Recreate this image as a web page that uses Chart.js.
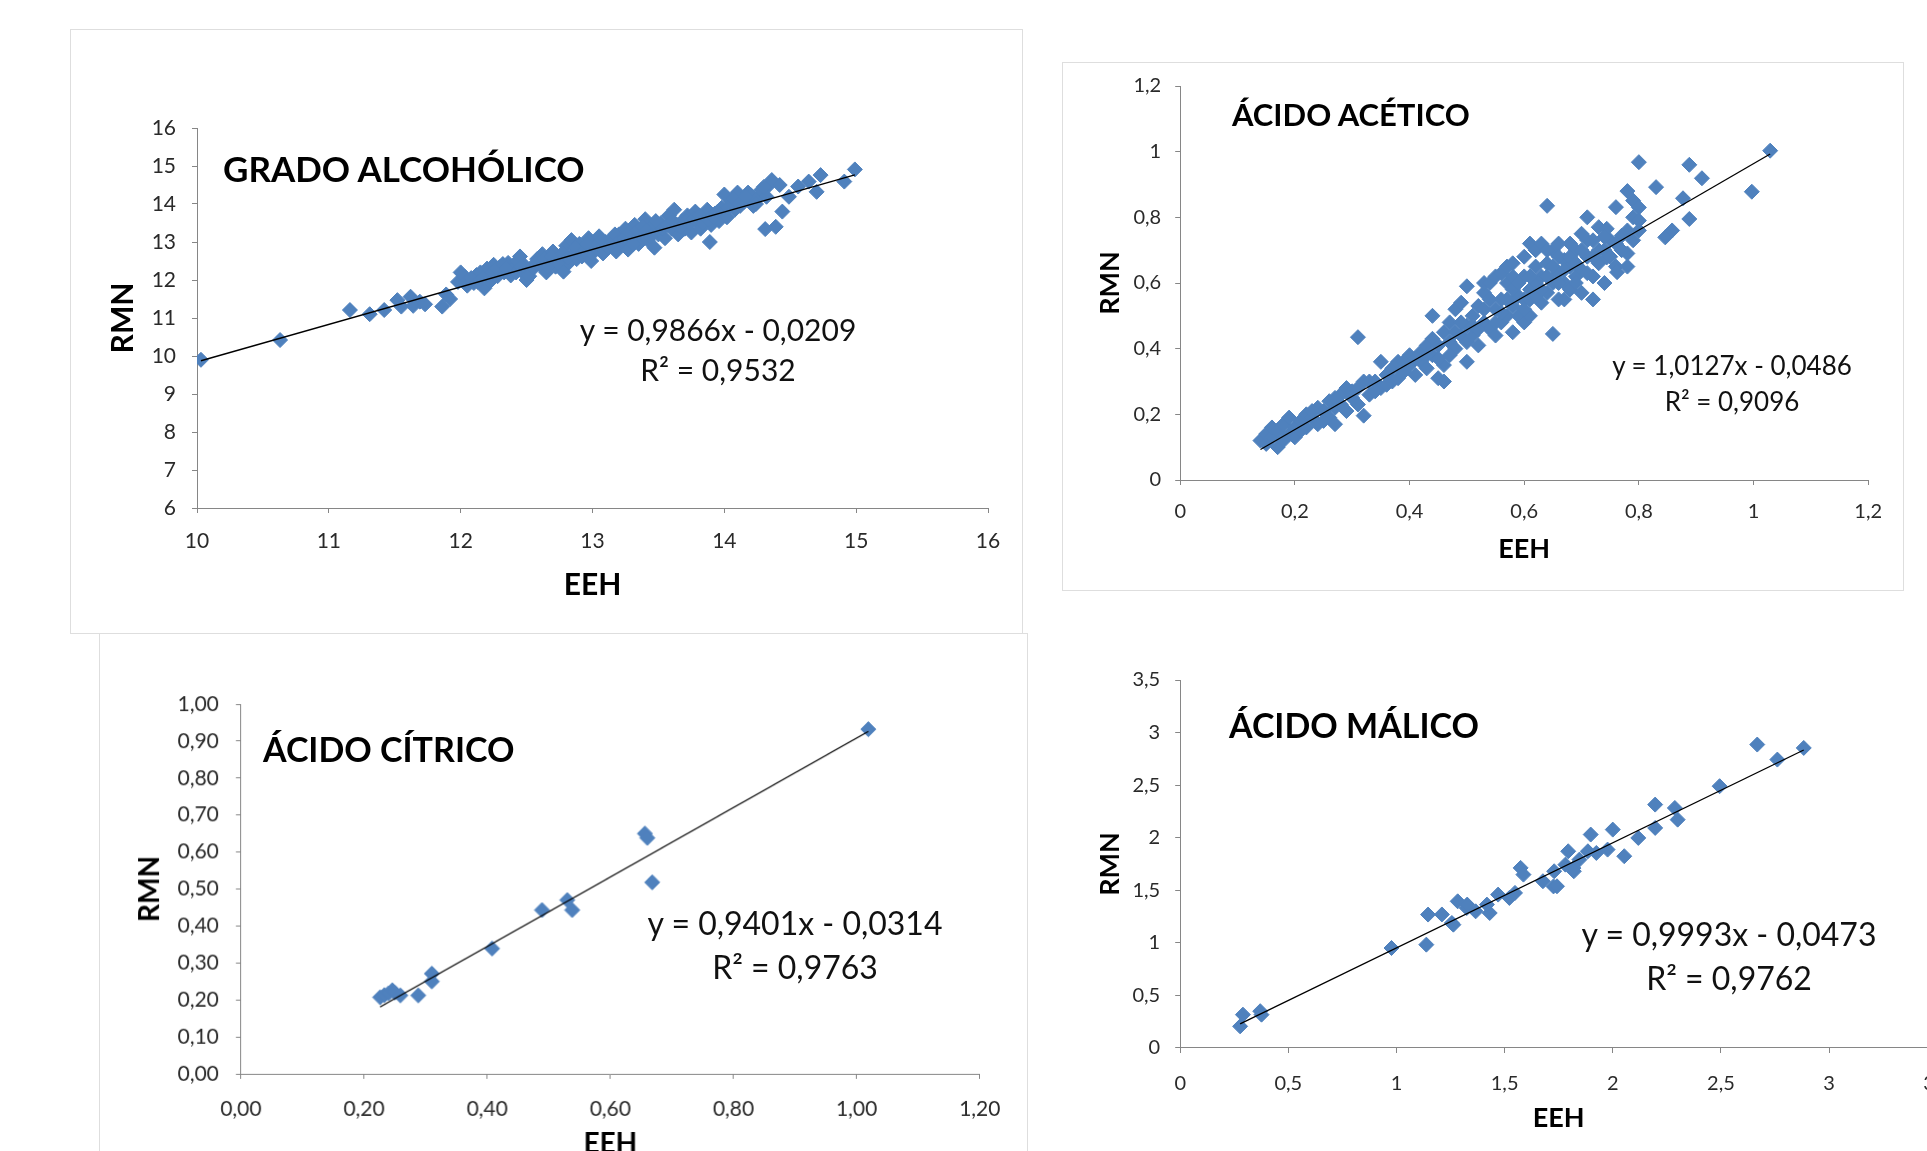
<!DOCTYPE html>
<html lang="es">
<head>
<meta charset="utf-8">
<title>EEH vs RMN</title>
<script src="https://cdn.jsdelivr.net/npm/chart.js@4.4.1/dist/chart.umd.min.js"></script>
<style>
  html, body { margin: 0; padding: 0; background: #fff; }
  body { width: 1927px; height: 1151px; overflow: hidden; position: relative; font-family: Lato, 'Open Sans', sans-serif; }
  .frame { position: absolute; border: 1px solid #dedede; }
  .chart-box { position: absolute; }
  .panel-title { position: absolute; font-weight: 700; color: #000; white-space: nowrap; line-height: 1; }
  .equation { position: absolute; width: 400px; text-align: center; color: #111; white-space: nowrap; }
</style>
</head>
<body>
<div class="frame" style="left:70px;top:29px;width:951px;height:603px"></div>
<div class="frame" style="left:1062px;top:62px;width:840px;height:527px"></div>
<div class="frame" style="left:99px;top:633px;width:927px;height:560px"></div>

<div class="chart-box" id="box-alcohol"><canvas id="chart-alcohol"></canvas></div>
<div class="chart-box" id="box-acetic"><canvas id="chart-acetic"></canvas></div>
<div class="chart-box" id="box-citric"><canvas id="chart-citric"></canvas></div>
<div class="chart-box" id="box-malic"><canvas id="chart-malic"></canvas></div>

<div class="panel-title" style="left:223px;top:151px;font-size:35px">GRADO ALCOHÓLICO</div>
<div class="equation" style="left:518px;top:309px;font-size:30px;line-height:40px">y = 0,9866x - 0,0209<br>R² = 0,9532</div>

<div class="panel-title" style="left:1232px;top:99px;font-size:31px">ÁCIDO ACÉTICO</div>
<div class="equation" style="left:1532px;top:347px;font-size:26px;line-height:36px">y = 1,0127x - 0,0486<br>R² = 0,9096</div>

<div class="panel-title" style="left:263px;top:732px;font-size:34px">ÁCIDO CÍTRICO</div>
<div class="equation" style="left:595px;top:901px;font-size:32px;line-height:44px">y = 0,9401x - 0,0314<br>R² = 0,9763</div>

<div class="panel-title" style="left:1229px;top:708px;font-size:34px">ÁCIDO MÁLICO</div>
<div class="equation" style="left:1529px;top:912px;font-size:32px;line-height:44px">y = 0,9993x - 0,0473<br>R² = 0,9762</div>

<script>
// ── data: [EEH, RMN] ─────────────────────────────────────────────────────
const alcoholData = [
  [10.03, 9.9], [10.63, 10.42], [11.16, 11.21], [11.31, 11.1], [11.42, 11.21], [11.52, 11.47],
  [11.55, 11.3], [11.62, 11.56], [11.64, 11.32], [11.69, 11.43], [11.73, 11.36], [11.86, 11.3],
  [11.89, 11.62], [11.92, 11.5], [11.98, 11.95], [12.03, 12.09], [12.1, 11.92], [12.12, 12.13],
  [12.05, 11.85], [12.15, 12.2], [12.18, 11.78], [12.2, 12.3], [12.22, 11.95], [12.25, 12.4],
  [12.28, 12.1], [12.3, 12.35], [12.33, 12.2], [12.36, 12.45], [12.38, 12.12], [12.4, 12.3],
  [12.43, 12.5], [12.45, 12.62], [12.47, 12.2], [12.5, 12.0], [12.52, 12.1], [12.48, 12.4],
  [12.55, 12.3], [12.58, 12.55], [12.6, 12.4], [12.62, 12.68], [12.65, 12.2], [12.68, 12.5],
  [12.7, 12.75], [12.72, 12.35], [12.75, 12.6], [12.78, 12.22], [12.8, 12.9], [12.82, 12.45],
  [12.84, 13.05], [12.86, 12.7], [12.88, 12.55], [12.9, 12.95], [12.92, 12.62], [12.95, 12.8],
  [12.97, 13.1], [12.99, 12.5], [13.02, 12.9], [13.05, 13.15], [13.08, 12.7], [13.1, 13.0],
  [13.12, 12.85], [13.15, 13.1], [13.18, 12.75], [13.2, 13.2], [13.22, 12.95], [13.25, 13.35],
  [13.27, 12.8], [13.3, 13.1], [13.32, 13.45], [13.35, 12.95], [13.37, 13.25], [13.4, 13.6],
  [13.42, 13.05], [13.45, 13.4], [13.47, 12.85], [13.5, 13.2], [13.52, 13.5], [13.55, 13.1],
  [13.58, 13.7], [13.6, 13.35], [13.62, 13.85], [13.65, 13.2], [13.68, 13.55], [13.7, 13.35],
  [13.72, 13.7], [13.75, 13.25], [13.78, 13.8], [13.8, 13.5], [13.82, 13.35], [13.85, 13.65],
  [13.87, 13.85], [13.89, 13.0], [13.9, 13.45], [13.93, 13.75], [13.96, 13.55], [13.98, 13.9],
  [14.0, 14.25], [14.02, 13.65], [14.05, 14.05], [14.08, 13.85], [14.1, 14.3], [14.12, 13.95],
  [14.15, 14.06], [14.18, 14.3], [14.2, 14.24], [14.22, 13.95], [14.25, 14.15], [14.28, 14.37],
  [14.31, 13.34], [14.32, 14.19], [14.34, 14.5], [14.36, 14.63], [14.39, 13.4], [14.42, 14.5],
  [14.44, 13.8], [14.49, 14.19], [14.56, 14.46], [14.64, 14.59], [14.7, 14.32], [14.73, 14.76],
  [14.91, 14.59], [14.99, 14.91],
  [12.0, 12.2], [12.08, 12.05], [12.13, 11.95], [12.17, 12.05], [12.24, 12.2], [12.27, 12.3],
  [12.32, 12.42], [12.35, 12.3], [12.42, 12.2], [12.46, 12.35], [12.57, 12.45], [12.63, 12.55],
  [12.66, 12.35], [12.69, 12.62], [12.74, 12.45], [12.77, 12.7], [12.81, 12.6], [12.87, 12.85],
  [12.93, 12.75], [12.96, 12.95], [13.0, 12.7], [13.04, 12.95], [13.07, 13.05], [13.11, 12.9],
  [13.14, 12.95], [13.17, 13.2], [13.21, 13.05], [13.24, 13.1], [13.28, 13.25], [13.31, 12.95],
  [13.34, 13.3], [13.38, 13.4], [13.41, 13.3], [13.44, 13.15], [13.48, 13.55], [13.53, 13.35],
  [13.57, 13.45], [13.61, 13.55], [13.64, 13.45], [13.67, 13.4], [13.71, 13.55], [13.74, 13.5],
  [13.77, 13.6], [13.81, 13.7], [13.84, 13.5], [13.88, 13.6], [13.92, 13.65], [13.95, 13.8],
  [14.03, 13.9], [14.07, 14.15], [14.11, 14.0], [14.16, 14.2], [14.24, 14.0], [14.3, 14.45]
]
const alcoholTrend = [[10.03, 9.875], [14.99, 14.768]]

const aceticData = [
  [0.14, 0.12], [0.15, 0.11], [0.15, 0.14], [0.16, 0.13], [0.16, 0.16], [0.17, 0.1], [0.17, 0.15],
  [0.18, 0.12], [0.18, 0.17], [0.19, 0.14], [0.19, 0.19], [0.2, 0.16], [0.2, 0.13],
  [0.21, 0.18], [0.22, 0.2], [0.22, 0.16], [0.23, 0.19], [0.24, 0.22], [0.24, 0.17], [0.25, 0.21],
  [0.26, 0.24], [0.26, 0.19], [0.27, 0.22], [0.27, 0.17], [0.28, 0.26], [0.28, 0.23], [0.29, 0.28],
  [0.29, 0.21], [0.3, 0.25], [0.3, 0.27],
  [0.31, 0.435], [0.31, 0.23], [0.32, 0.196], [0.32, 0.3], [0.33, 0.26], [0.34, 0.3], [0.35, 0.36],
  [0.35, 0.28], [0.36, 0.32], [0.37, 0.3], [0.37, 0.34], [0.38, 0.31], [0.38, 0.36], [0.39, 0.33],
  [0.4, 0.35], [0.4, 0.38],
  [0.41, 0.32], [0.42, 0.39], [0.42, 0.36], [0.43, 0.41], [0.43, 0.34], [0.44, 0.5], [0.44, 0.43],
  [0.44, 0.38], [0.45, 0.31], [0.45, 0.41], [0.46, 0.35], [0.46, 0.45], [0.46, 0.3], [0.47, 0.42],
  [0.47, 0.48], [0.48, 0.4], [0.48, 0.52], [0.48, 0.45], [0.49, 0.44], [0.49, 0.54], [0.5, 0.47],
  [0.5, 0.42], [0.5, 0.59], [0.5, 0.36],
  [0.51, 0.5], [0.51, 0.44], [0.52, 0.53], [0.52, 0.41], [0.53, 0.48], [0.53, 0.57], [0.53, 0.6],
  [0.54, 0.46], [0.54, 0.6], [0.55, 0.52], [0.55, 0.44], [0.55, 0.62], [0.56, 0.55], [0.56, 0.63],
  [0.56, 0.48], [0.57, 0.5], [0.57, 0.6], [0.57, 0.65], [0.58, 0.53], [0.58, 0.66], [0.58, 0.45],
  [0.58, 0.62], [0.59, 0.56], [0.59, 0.5], [0.6, 0.62], [0.6, 0.55], [0.6, 0.48], [0.6, 0.68],
  [0.61, 0.72], [0.61, 0.58], [0.61, 0.5], [0.62, 0.6], [0.62, 0.65], [0.62, 0.7], [0.63, 0.54],
  [0.63, 0.62], [0.63, 0.72], [0.64, 0.835], [0.64, 0.66], [0.64, 0.57], [0.65, 0.445], [0.65, 0.6],
  [0.65, 0.7], [0.66, 0.63], [0.66, 0.55], [0.66, 0.72], [0.67, 0.67], [0.67, 0.6], [0.68, 0.72],
  [0.68, 0.58], [0.68, 0.65], [0.69, 0.62], [0.69, 0.7], [0.7, 0.75], [0.7, 0.64], [0.7, 0.57],
  [0.71, 0.68], [0.71, 0.8], [0.72, 0.62], [0.72, 0.55], [0.72, 0.73], [0.73, 0.66], [0.73, 0.77],
  [0.74, 0.7], [0.74, 0.6], [0.744, 0.765], [0.744, 0.678], [0.75, 0.73], [0.76, 0.831], [0.76, 0.65],
  [0.762, 0.633], [0.77, 0.744], [0.78, 0.69], [0.78, 0.88], [0.78, 0.65], [0.79, 0.851], [0.79, 0.8],
  [0.79, 0.73], [0.8, 0.968], [0.8, 0.83], [0.8, 0.79], [0.8, 0.76],
  [0.83, 0.892], [0.846, 0.739], [0.858, 0.76], [0.877, 0.858], [0.888, 0.96], [0.888, 0.795],
  [0.91, 0.919], [0.997, 0.878], [1.029, 1.003],
  [0.45, 0.37], [0.47, 0.38], [0.49, 0.48], [0.51, 0.47], [0.52, 0.46], [0.53, 0.52], [0.54, 0.55],
  [0.55, 0.48], [0.56, 0.51], [0.57, 0.55], [0.58, 0.58], [0.59, 0.6], [0.6, 0.52], [0.61, 0.62],
  [0.61, 0.55], [0.62, 0.56], [0.63, 0.58], [0.64, 0.62], [0.64, 0.7], [0.65, 0.65], [0.66, 0.6],
  [0.66, 0.68], [0.67, 0.64], [0.67, 0.55], [0.68, 0.68], [0.69, 0.66], [0.69, 0.6], [0.7, 0.7],
  [0.71, 0.63], [0.71, 0.73], [0.72, 0.68], [0.73, 0.7], [0.74, 0.74], [0.75, 0.68], [0.76, 0.72],
  [0.77, 0.7], [0.78, 0.76], [0.39, 0.36], [0.41, 0.37], [0.43, 0.38], [0.36, 0.29], [0.34, 0.27],
  [0.33, 0.3], [0.31, 0.28], [0.27, 0.25], [0.25, 0.18], [0.23, 0.21], [0.21, 0.15]
]
const aceticTrend = [[0.14, 0.093], [1.029, 0.993]]

const citricData = [
  [0.226, 0.207], [0.233, 0.213], [0.24, 0.218], [0.246, 0.226], [0.25, 0.22], [0.259, 0.212],
  [0.288, 0.212], [0.31, 0.271], [0.31, 0.25], [0.408, 0.339], [0.489, 0.443], [0.53, 0.47],
  [0.538, 0.443], [0.656, 0.65], [0.66, 0.638], [0.668, 0.518], [1.019, 0.932]
]
const citricTrend = [[0.226, 0.181], [1.019, 0.926]]

const malicData = [
  [0.277, 0.206], [0.29, 0.317], [0.376, 0.317], [0.37, 0.35], [0.977, 0.951], [1.138, 0.983],
  [1.146, 1.269], [1.21, 1.27], [1.256, 1.189], [1.263, 1.173], [1.283, 1.395], [1.325, 1.331],
  [1.327, 1.364], [1.366, 1.3], [1.431, 1.284], [1.418, 1.364], [1.47, 1.459], [1.522, 1.427],
  [1.548, 1.475], [1.574, 1.713], [1.587, 1.649], [1.677, 1.586], [1.726, 1.537], [1.729, 1.681],
  [1.742, 1.538], [1.781, 1.744], [1.794, 1.871], [1.818, 1.711], [1.82, 1.681], [1.846, 1.792],
  [1.885, 1.871], [1.898, 2.03], [1.924, 1.855], [1.976, 1.887], [2.0, 2.077], [2.053, 1.824],
  [2.118, 1.998], [2.196, 2.315], [2.196, 2.093], [2.287, 2.283], [2.3, 2.172], [2.494, 2.49],
  [2.668, 2.886], [2.761, 2.743], [2.883, 2.854]
]
const malicTrend = [[0.277, 0.229], [2.883, 2.834]]

// ── tick values ────────────────────────────────────────────────────────────
const alcoholXTicks = [10, 11, 12, 13, 14, 15, 16]
const alcoholYTicks = [6, 7, 8, 9, 10, 11, 12, 13, 14, 15, 16]
const aceticTicks = [0, 0.2, 0.4, 0.6, 0.8, 1, 1.2]
const citricXTicks = [0, 0.2, 0.4, 0.6, 0.8, 1, 1.2]
const citricYTicks = [0, 0.1, 0.2, 0.3, 0.4, 0.5, 0.6, 0.7, 0.8, 0.9, 1]
const malicTicks = [0, 0.5, 1, 1.5, 2, 2.5, 3, 3.5]

// ── layout of each panel (page pixels) ─────────────────────────────────────
const panels = [
  { id: 'alcohol', points: alcoholData, trend: alcoholTrend, xTicks: alcoholXTicks, yTicks: alcoholYTicks,
    dec: null, area: [197, 128, 988, 508], yTitleX: 123, xTitleY: 585, titleSize: 30, tickSize: 21,
    xPad: 16, yPad: 16, marker: 7.5 },
  { id: 'acetic', points: aceticData, trend: aceticTrend, xTicks: aceticTicks, yTicks: aceticTicks,
    dec: null, area: [1180, 86, 1868, 480], yTitleX: 1110, xTitleY: 549, titleSize: 27, tickSize: 20,
    xPad: 15, yPad: 14, marker: 7.5 },
  { id: 'citric', points: citricData, trend: citricTrend, xTicks: citricXTicks, yTicks: citricYTicks,
    dec: 2, area: [241, 704, 979, 1073], yTitleX: 150, xTitleY: 1143, titleSize: 28, tickSize: 21,
    xPad: 18, yPad: 17, marker: 7.5 },
  { id: 'malic', points: malicData, trend: malicTrend, xTicks: malicTicks, yTicks: malicTicks,
    dec: null, area: [1180, 680, 1937, 1048], yTitleX: 1110, xTitleY: 1118, titleSize: 27, tickSize: 20,
    xPad: 19, yPad: 15, marker: 7.5 },
]

const TOP_PAD = 44

function fmt(v, dec) {
  const s = dec === null ? String(+v.toFixed(2)) : v.toFixed(dec)
  return s.replace('.', ',')
}

function axis(ticks, dec, pad, size, title, titleSize, fitSize, horizontal) {
  return {
    type: 'linear',
    min: ticks[0],
    max: ticks[ticks.length - 1],
    afterBuildTicks: (s) => { s.ticks = ticks.map((value) => ({ value })) },
    afterFit: (s) => { if (horizontal) s.height = fitSize; else s.width = fitSize },
    grid: { drawOnChartArea: false, drawTicks: true, tickLength: 5, color: '#868686', lineWidth: 1 },
    border: { display: true, color: '#868686', width: 1 },
    ticks: {
      padding: pad,
      color: '#2a2a2a',
      font: { family: 'Lato', size },
      maxRotation: 0,
      autoSkip: false,
      callback: (v) => fmt(v, dec),
    },
    title: {
      display: true,
      text: title,
      color: '#000',
      padding: 0,
      font: { family: 'Lato', size: titleSize, weight: 'bold' },
    },
  }
}

function buildPanel(p) {
  const lh = p.titleSize * 1.2
  const [l, t, r, b] = p.area
  const left = p.yTitleX - lh / 2
  const top = t - TOP_PAD
  const right = r + 40
  const bottom = p.xTitleY + lh / 2

  const box = document.getElementById('box-' + p.id)
  box.style.left = left + 'px'
  box.style.top = top + 'px'
  box.style.width = (right - left) + 'px'
  box.style.height = (bottom - top) + 'px'

  new Chart(document.getElementById('chart-' + p.id), {
    type: 'scatter',
    data: {
      datasets: [
        {
          data: p.trend.map(([x, y]) => ({ x, y })),
          showLine: true,
          borderColor: '#000',
          borderWidth: 1.3,
          pointRadius: 0,
          order: 0,
        },
        {
          data: p.points.map(([x, y]) => ({ x, y })),
          pointStyle: 'rectRot',
          pointRadius: p.marker,
          backgroundColor: '#4F81BD',
          borderColor: '#4F81BD',
          borderWidth: 1,
          order: 1,
        },
      ],
    },
    options: {
      responsive: true,
      maintainAspectRatio: false,
      animation: false,
      devicePixelRatio: 1,
      layout: { padding: { top: TOP_PAD, right: 40, left: 0, bottom: 0 } },
      plugins: { legend: { display: false }, tooltip: { enabled: false } },
      scales: {
        x: axis(p.xTicks, p.dec, p.xPad, p.tickSize, 'EEH', p.titleSize, bottom - b, true),
        y: axis(p.yTicks, p.dec, p.yPad, p.tickSize, 'RMN', p.titleSize, l - left, false),
      },
    },
  })
}

panels.forEach(buildPanel)
</script>
</body>
</html>
